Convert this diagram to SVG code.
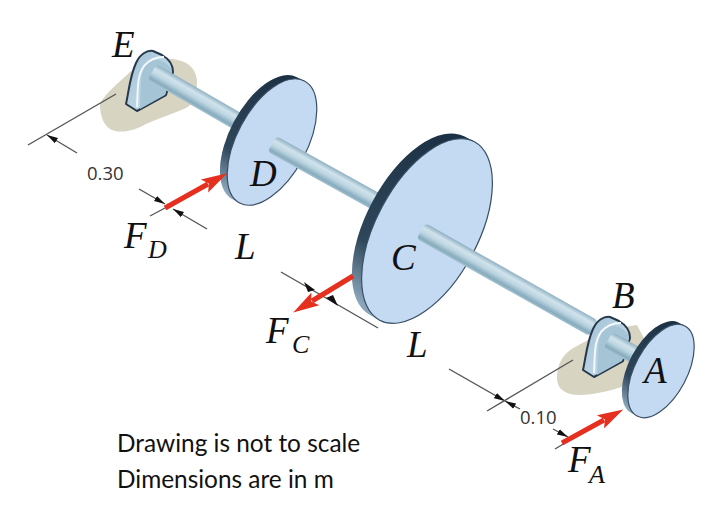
<svg xmlns="http://www.w3.org/2000/svg" xmlns:xlink="http://www.w3.org/1999/xlink" width="706" height="522" viewBox="0 0 706 522">
<style>
.sand{fill:#d8d4c2}
.shaft{fill:url(#shaftG)}
.face{fill:#c4d9f2;stroke:#3a5064;stroke-width:1.2}
.rim{fill:url(#rimG)}
.dim{stroke:#555;stroke-width:1.4;fill:none}
.dimA{stroke:#555;stroke-width:1.4;fill:none;marker-end:url(#tick)}
.force{stroke:#e5301f;stroke-width:5;fill:none;marker-end:url(#redHead)}
.lab{font-family:"Liberation Serif",serif;font-style:italic;fill:#111}
.big{font-size:37px}
.sub{font-size:26px}
.num{font-family:"Open Sans",sans-serif;font-size:18.5px;fill:#333}
.note{font-family:"Lato",sans-serif;font-size:24.4px;fill:#111}
</style>
<defs>
<linearGradient id="shaftG" x1="0" y1="0" x2="0" y2="1">
<stop offset="0" stop-color="#8fb0c2"/><stop offset=".28" stop-color="#d0e3ec"/><stop offset=".55" stop-color="#bcd5e1"/><stop offset=".85" stop-color="#86abbd"/><stop offset="1" stop-color="#a6c3d1"/>
</linearGradient>
<linearGradient id="rimG" x1="0.7" y1="0" x2="0.3" y2="1">
<stop offset="0" stop-color="#1d3144"/><stop offset=".7" stop-color="#2f465a"/><stop offset="1" stop-color="#8ba6ba"/>
</linearGradient>
<linearGradient id="brG" x1="0" y1="0" x2="1" y2="1">
<stop offset="0" stop-color="#9fc0d6"/><stop offset="1" stop-color="#d2e4ee"/>
</linearGradient>
<marker id="tick" markerUnits="userSpaceOnUse" markerWidth="12" markerHeight="8" refX="11" refY="4" orient="auto"><path d="M0,1 L11,4 L0,7Z" fill="#111"/></marker>
<marker id="redHead" markerUnits="userSpaceOnUse" markerWidth="28" markerHeight="18" refX="4" refY="9" orient="auto"><path d="M0,1.500 L26,9 L0,16.500 L5,9Z" fill="#e5301f"/></marker>
<g id="bracket">
<path d="M126,104 C129,90 130,76 136,63 C140,54 147,50 153,51 L162,55 C169,59 173,65 173,72 L166,95 L137,111Z" fill="url(#brG)" stroke="#26384a" stroke-width="2" stroke-linejoin="round"/>
<path d="M145,66 C152,58 162,58 170,67 L172,72 L165,95 L140,109 C141,90 140,76 145,66Z" fill="#a5c4d6"/>
<path d="M137,107 C138,88 137,76 144,66 C149,60 155,57 164,57" fill="none" stroke="#f2f8fb" stroke-width="2"/>
</g>
</defs>

<g id="support-E"><path class="sand" d="M100,104 C106,92 120,82 130,72 C142,62 158,58 173,59 C186,61 195,66 197,80 C197,94 194,104 186,108 C172,114 160,118 146,124 C136,130 122,134 112,130 C104,127 100,116 100,104Z"/></g>
<g id="support-B"><path class="sand" d="M557,378 C557,365 562,354 575,347 C595,336 615,328 637,325 L650,350 L625,386 C606,392 585,397 570,394 C561,391 557,386 557,378Z"/></g>

<g id="node-E"><use href="#bracket"/><rect class="shaft" x="0" y="-9" width="105" height="18" rx="4" transform="translate(152,72) rotate(30)"/></g>

<g id="node-D">
<path class="rim" d="M304.400,81.100 L296.400,76.900 A69,35 -62 0 0 231.600,198.700 L239.600,202.900Z"/>
<ellipse class="face" cx="272" cy="142" rx="69" ry="35" transform="rotate(-62 272 142)"/>
<rect class="shaft" x="0" y="-9" width="125" height="18" rx="4" transform="translate(272,144) rotate(29)"/>
<text class="lab big" x="250" y="186">D</text>
</g>

<g id="node-C">
<path class="rim" d="M474.400,141.800 L464.700,136.600 A101,51 -62 0 0 369.900,315 L379.600,320.200Z"/>
<ellipse class="face" cx="427" cy="231" rx="101" ry="51" transform="rotate(-62 427 231)"/>
<rect class="shaft" x="0" y="-9" width="198" height="18" rx="4" transform="translate(421,231) rotate(29.400)"/>
<text class="lab big" x="391" y="270">C</text>
</g>

<g id="node-B"><use href="#bracket" x="457" y="266"/><rect class="shaft" x="0" y="-9" width="34" height="18" rx="4" transform="translate(608,340) rotate(29)"/></g>

<g id="node-A">
<path class="rim" d="M684.900,326 L677.900,322.200 A51,26 -62 0 0 630.100,412.200 L637.100,416Z"/>
<ellipse class="face" cx="661" cy="371" rx="51" ry="26" transform="rotate(-62 661 371)"/>
<text class="lab big" x="644" y="383">A</text>
</g>

<g id="connectors">
<line class="dim" x1="28" y1="145" x2="116" y2="94"/>
<line class="dimA" x1="77" y1="153" x2="47" y2="135"/>
<line class="dimA" x1="139" y1="189" x2="165" y2="204"/>
<line class="dimA" x1="207" y1="229" x2="173" y2="209"/>
<line class="dim" x1="150" y1="216" x2="165" y2="208"/>
<line class="dim" x1="281" y1="272" x2="378" y2="328"/>
<line class="dimA" x1="449" y1="369" x2="505" y2="401"/>
<line class="dimA" x1="520" y1="409" x2="505" y2="401"/>
<line class="dim" x1="487" y1="411" x2="573" y2="360"/>
<line class="dimA" x1="553" y1="429" x2="568" y2="437"/>
<line class="dim" x1="555" y1="449" x2="565" y2="443"/>
<line class="force" x1="165" y1="208" x2="208" y2="184"/>
<line class="force" x1="353" y1="276" x2="312" y2="301"/>
<line class="force" x1="562" y1="443" x2="604" y2="420"/>
<path d="M304,282 L315,290 L308,292Z M338,306 L326,298 L333,295Z" fill="#111"/>
</g>

<g id="labels">
<text class="lab big" x="112" y="57">E</text>
<text class="lab big" x="124" y="248">F</text>
<text class="lab sub" x="148" y="258">D</text>
<text class="lab big" x="235" y="259">L</text>
<text class="lab big" x="266" y="343">F</text>
<text class="lab sub" x="292" y="353">C</text>
<text class="lab big" x="407" y="357">L</text>
<text class="lab big" x="612" y="308">B</text>
<text class="lab big" x="568" y="472">F</text>
<text class="lab sub" x="589" y="483">A</text>
<text class="num" x="87" y="180">0.30</text>
<text class="num" x="520" y="424">0.10</text>
<text class="note" x="117" y="452">Drawing is not to scale</text>
<text class="note" x="117" y="488">Dimensions are in m</text>
</g>
</svg>
